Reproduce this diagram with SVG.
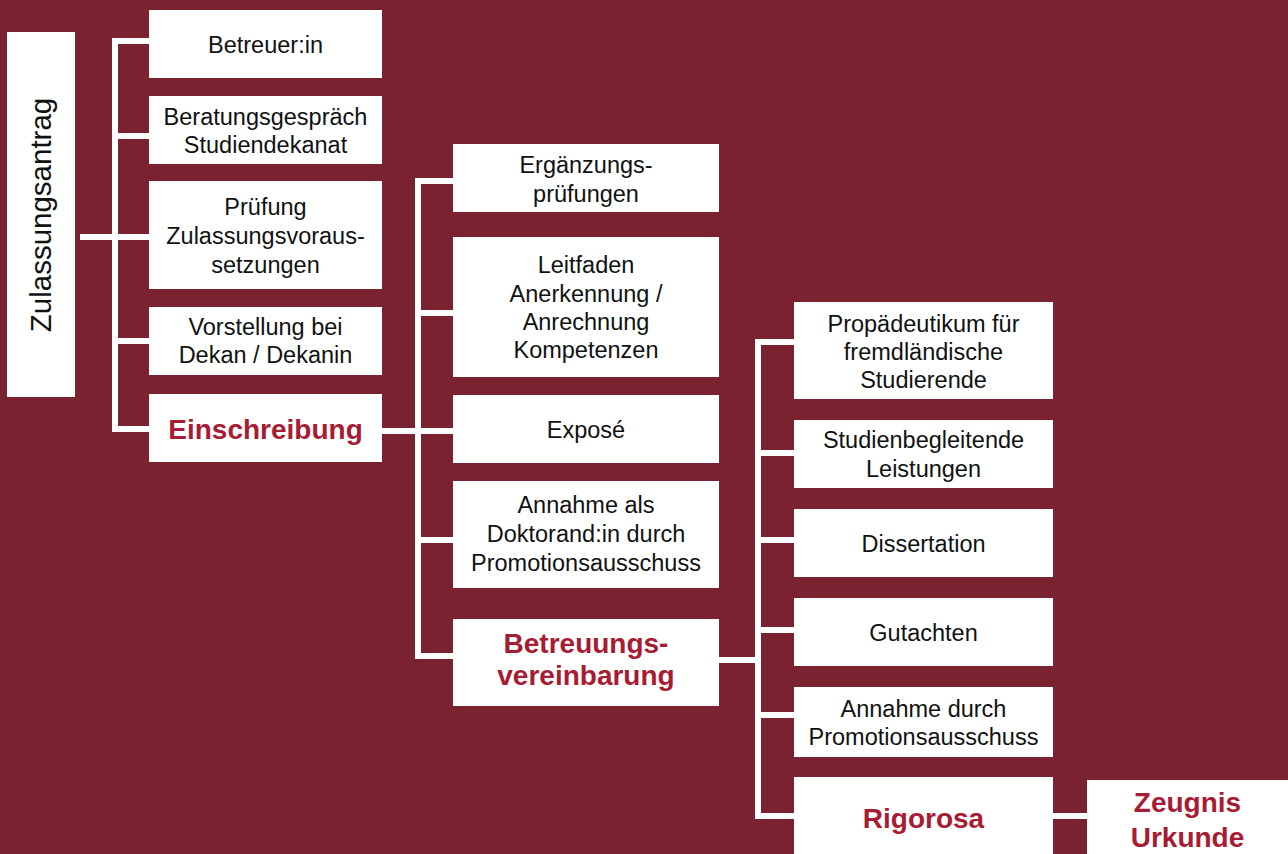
<svg xmlns="http://www.w3.org/2000/svg" width="1288" height="854" viewBox="0 0 1288 854">
<style>
.box{fill:#ffffff}
.t{font-family:"Liberation Sans",Arial,sans-serif;font-size:23.5px;fill:#111111;text-anchor:middle}
.b{font-family:"Liberation Sans",Arial,sans-serif;font-size:28px;font-weight:700;fill:#a81c33;text-anchor:middle}
.ln{stroke:#ffffff;stroke-width:6;fill:none}
</style>
<rect x="0" y="0" width="1288" height="854" fill="#7a2230"/>
<g id="connectors">
<path class="ln" d="M80 237H115M115 38V432M112 41H149M115 136H149M115 237H149M115 341H149M112 429H149"/>
<path class="ln" d="M382 431H418M418 178V659M415 181H453M418 313H453M418 431H453M418 540H453M415 656H453"/>
<path class="ln" d="M719 660H758M758 339V819M755 342H794M758 453H794M758 540H794M758 630H794M758 715H794M755 816H794"/>
<path class="ln" d="M1053 816H1087"/>
</g>
<g id="zulassungsantrag"><rect class="box" x="7" y="32" width="68" height="365"/><text class="t" style="font-size:29.5px" transform="translate(51,215) rotate(-90)">Zulassungsantrag</text></g>
<g id="betreuer"><rect class="box" x="149" y="10" width="233" height="68"/><text class="t" x="265.5" y="53">Betreuer:in</text></g>
<g id="beratung"><rect class="box" x="149" y="96" width="233" height="68"/><text class="t" x="265.5" y="125">Beratungsgespräch</text><text class="t" x="265.5" y="153">Studiendekanat</text></g>
<g id="pruefung"><rect class="box" x="149" y="181" width="233" height="108"/><text class="t" x="265.5" y="215">Prüfung</text><text class="t" x="265.5" y="244">Zulassungsvoraus-</text><text class="t" x="265.5" y="273">setzungen</text></g>
<g id="vorstellung"><rect class="box" x="149" y="307" width="233" height="68"/><text class="t" x="265.5" y="335">Vorstellung bei</text><text class="t" x="265.5" y="363">Dekan / Dekanin</text></g>
<g id="einschreibung"><rect class="box" x="149" y="394" width="233" height="68"/><text class="b" x="265.5" y="439">Einschreibung</text></g>
<g id="ergaenzung"><rect class="box" x="453" y="144" width="266" height="68"/><text class="t" x="586" y="173">Ergänzungs-</text><text class="t" x="586" y="202">prüfungen</text></g>
<g id="leitfaden"><rect class="box" x="453" y="237" width="266" height="140"/><text class="t" x="586" y="273">Leitfaden</text><text class="t" x="586" y="302">Anerkennung /</text><text class="t" x="586" y="330">Anrechnung</text><text class="t" x="586" y="358">Kompetenzen</text></g>
<g id="expose"><rect class="box" x="453" y="395" width="266" height="68"/><text class="t" x="586" y="438">Exposé</text></g>
<g id="annahme-doktorand"><rect class="box" x="453" y="481" width="266" height="107"/><text class="t" x="586" y="513">Annahme als</text><text class="t" x="586" y="542">Doktorand:in durch</text><text class="t" x="586" y="571">Promotionsausschuss</text></g>
<g id="betreuungsvereinbarung"><rect class="box" x="453" y="619" width="266" height="87"/><text class="b" x="586" y="653">Betreuungs-</text><text class="b" x="586" y="685">vereinbarung</text></g>
<g id="propaedeutikum"><rect class="box" x="794" y="302" width="259" height="97"/><text class="t" x="923.5" y="332">Propädeutikum für</text><text class="t" x="923.5" y="360">fremdländische</text><text class="t" x="923.5" y="388">Studierende</text></g>
<g id="studienbegleitend"><rect class="box" x="794" y="420" width="259" height="68"/><text class="t" x="923.5" y="448">Studienbegleitende</text><text class="t" x="923.5" y="477">Leistungen</text></g>
<g id="dissertation"><rect class="box" x="794" y="509" width="259" height="68"/><text class="t" x="923.5" y="552">Dissertation</text></g>
<g id="gutachten"><rect class="box" x="794" y="598" width="259" height="68"/><text class="t" x="923.5" y="641">Gutachten</text></g>
<g id="annahme-promotion"><rect class="box" x="794" y="687" width="259" height="70"/><text class="t" x="923.5" y="717">Annahme durch</text><text class="t" x="923.5" y="745">Promotionsausschuss</text></g>
<g id="rigorosa"><rect class="box" x="794" y="777" width="259" height="90"/><text class="b" x="923.5" y="828">Rigorosa</text></g>
<g id="zeugnis"><rect class="box" x="1087" y="780" width="210" height="90"/><text class="b" x="1187.5" y="812">Zeugnis</text><text class="b" x="1187.5" y="847">Urkunde</text></g>
</svg>
